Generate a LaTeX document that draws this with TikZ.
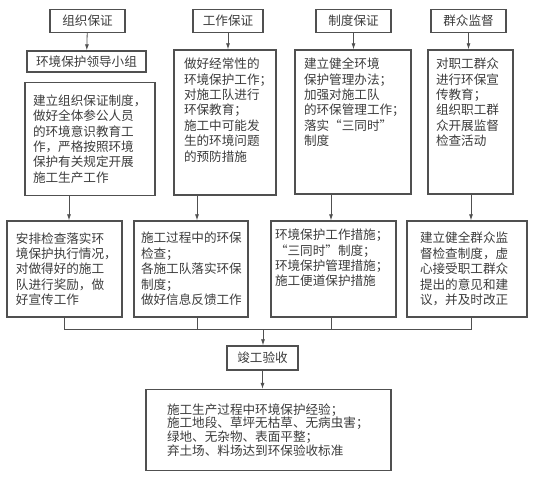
\documentclass[tikz,border=0pt]{standalone}
\usepackage{fontspec}
\newfontfamily\cjk{Noto Sans CJK SC}
\usetikzlibrary{arrows.meta}
\definecolor{linegray}{HTML}{505050}
\definecolor{textgray}{HTML}{3C3C3C}
% parbox of fixed size: position, width, height, lines
\newcommand{\cell}[4]{\parbox[c][#3][#1]{#2}{\raggedright #4}}

\begin{document}
\begin{tikzpicture}[x=1pt,y=-1pt,
	blk/.style={draw=linegray,line width=1.4pt,inner sep=0pt,text=textgray,
		font=\cjk\fontsize{12.6}{15.4}\selectfont},
	tophead/.style={blk,minimum height=23pt,align=center},
	link/.style={draw=linegray,line width=0.8pt},
	arr/.style={link,-{Latex[length=6pt,width=4pt]}}]
	\useasboundingbox (0,0) rectangle (538,479);
	% top row
	\node[tophead,minimum width=75pt] (org) at (87.5,21) {组织保证};
	\node[tophead,minimum width=70pt] (work) at (228,21) {工作保证};
	\node[tophead,minimum width=75pt] (sys) at (353.5,21) {制度保证};
	\node[tophead,minimum width=75pt] (mass) at (468.5,21) {群众监督};
	\node[tophead,minimum width=119pt,minimum height=21pt] (lead) at (86.5,61.5) {环境保护领导小组};
	% measures
	\node[blk,inner xsep=8pt,inner ysep=4pt] (b1) at (90,139)
		{\cell{c}{114pt}{105pt}{建立组织保证制度，\\做好全体参公人员\\的环境意识教育工\\作，严格按照环境\\保护有关规定开展\\施工生产工作}};
	\node[blk,inner xsep=10pt,inner ysep=8pt] (b2) at (225,122.5)
		{\cell{t}{82pt}{129pt}{做好经常性的\\环境保护工作；\\对施工队进行\\环保教育；\\施工中可能发\\生的环境问题\\的预防措施}};
	\node[blk,inner xsep=9pt,inner ysep=8pt] (b3) at (353,122)
		{\cell{t}{98pt}{128pt}{建立健全环境\\保护管理办法；\\加强对施工队\\的环保管理工作；\\落实“三同时”\\制度}};
	\node[blk,inner xsep=8pt,inner ysep=8pt] (b4) at (470.5,122)
		{\cell{t}{69pt}{128pt}{对职工群众\\进行环保宣\\传教育；\\组织职工群\\众开展监督\\检查活动}};
	% checks
	\node[blk,inner xsep=9pt,inner ysep=4pt] (b5) at (64.5,269)
		{\cell{c}{97pt}{88pt}{安排检查落实环\\境保护执行情况，\\对做得好的施工\\队进行奖励，做\\好宣传工作}};
	\node[blk,inner xsep=7pt,inner ysep=4pt] (b6) at (191,269)
		{\cell{c}{100pt}{88pt}{施工过程中的环保\\检查；\\各施工队落实环保\\制度；\\做好信息反馈工作}};
	\node[blk,inner xsep=4pt,inner ysep=8pt] (b7) at (333.5,269)
		{\cell{t}{117pt}{80pt}{环境保护工作措施；\\“三同时”制度；\\环境保护管理措施；\\施工便道保护措施}};
	\node[blk,inner xsep=13pt,inner ysep=4pt] (b8) at (467,269)
		{\cell{c}{94pt}{88pt}{建立健全群众监\\督检查制度，虚\\心接受职工群众\\提出的意见和建\\议，并及时改正}};
	% acceptance
	\node[tophead,minimum width=71pt,minimum height=24pt] (acc) at (262.5,358) {竣工验收};
	\node[blk,inner xsep=21pt,inner ysep=4pt,font=\cjk\fontsize{12.6}{13.8}\selectfont] (fin) at (268.5,430)
		{\cell{c}{203pt}{73pt}{施工生产过程中环境保护经验；\\施工地段、草坪无枯草、无病虫害；\\绿地、无杂物、表面平整；\\弃土场、料场达到环保验收标准}};
	% connectors
	\draw[arr] (org) -- (lead);
	\draw[arr] (work.south) -- (b2.north -| work.south);
	\draw[arr] (sys) -- (b3.north -| sys.south);
	\draw[arr] (mass) -- (b4.north -| mass.south);
	\draw[arr] ([xshift=-21pt]b1.south) -- ([xshift=4.5pt]b5.north);
	\draw[arr] ([xshift=-28pt]b2.south) -- ([xshift=6pt]b6.north);
	\draw[arr] ([xshift=-22pt]b3.south) -- ([xshift=-2.5pt]b7.north);
	\draw[arr] ([xshift=0.5pt]b4.south) -- ([xshift=4pt]b8.north);
	\coordinate (bus) at (263,329);
	\draw[link] (b5.south) |- (bus);
	\draw[link] ([xshift=6pt]b6.south) |- (bus);
	\draw[link] ([xshift=-2.5pt]b7.south) |- (bus);
	\draw[link] ([xshift=4pt]b8.south) |- (bus);
	\draw[arr] (bus) -- (acc.north -| bus);
	\draw[arr] (acc.south) -- (fin.north -| acc.south);
\end{tikzpicture}
\end{document}
